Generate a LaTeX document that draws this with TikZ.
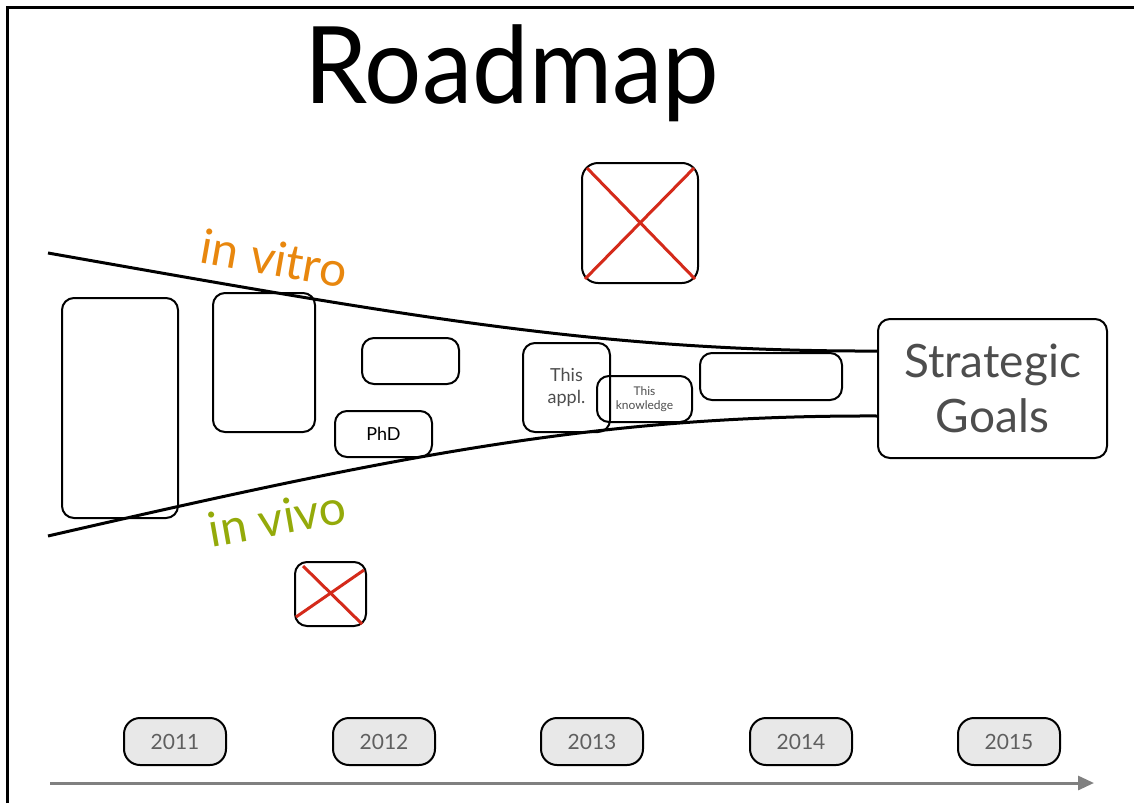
\documentclass[tikz,border=0pt]{standalone}
\usepackage{fontspec}
\setmainfont{Lato}
\usetikzlibrary{arrows.meta}
\definecolor{vitro}{HTML}{E8870E}
\definecolor{vivo}{HTML}{94AA0A}
\definecolor{txtgray}{HTML}{4D4D4D}
\definecolor{redx}{HTML}{D42A1A}
\definecolor{pill}{HTML}{E8E8E8}
\definecolor{axis}{HTML}{808080}
\begin{document}
\begin{tikzpicture}[x=1pt,y=-1pt,
  box/.style={draw=black,line width=2pt,rounded corners=12pt,inner sep=0pt},
  yearbox/.style={box,fill=pill,minimum width=102pt,minimum height=47pt,rounded corners=16pt,
    text=txtgray!90,font=\fontsize{21}{21}\selectfont},
  road/.style={line width=3pt,black},
  xline/.style={redx,line width=3pt}]
\useasboundingbox (0,0) rectangle (1134,803);
% frame
\draw[line width=3pt] (7,803) -- (7,7) -- (1134,7);
% title
\node[font=\fontsize{107}{107}\selectfont,xscale=0.945] (title) at (512,73) {Roadmap};
% road curves
\coordinate (ul) at (48,253);
\coordinate (ll) at (48,536);
\node[box,minimum width=229pt,minimum height=139pt,text=txtgray,align=center,
  font=\fontsize{46}{55}\selectfont] (goals) at (992.5,388.5) {Strategic\\Goals};
\coordinate (ur) at (878,351);
\coordinate (lr) at (878,416);
% boxes
\node[box,minimum width=116pt,minimum height=220pt] (b1) at (120,408) {};
\node[box,minimum width=102pt,minimum height=139pt] (b2) at (264,362.5) {};
\node[box,minimum width=97pt,minimum height=46pt] (b3) at (410.5,361) {};
\node[box,minimum width=97pt,minimum height=46pt,font=\fontsize{18}{18}\selectfont] (phd) at (383.5,434) {PhD};
\node[box,minimum width=87pt,minimum height=89pt,text=txtgray,align=center,
  font=\fontsize{18}{22}\selectfont] (appl) at (566.5,387.5) {This\\appl.};
\node[box,minimum width=95pt,minimum height=46pt,text=txtgray,align=center,
  font=\fontsize{12}{14}\selectfont] (know) at (644.5,399) {This\\knowledge};
\node[box,minimum width=142pt,minimum height=47pt] (b7) at (771,376.5) {};
\draw[road] (ul) .. controls (400,315) and (600,352) .. (ur);
\draw[road] (ll) .. controls (400,455) and (600,415) .. (lr);
% red X boxes
\node[box,minimum width=116pt,minimum height=120pt,rounded corners=16pt] (x1) at (640,223) {};
\draw[xline] ([shift={(6,6)}]x1.north west) -- ([shift={(-4,-5)}]x1.south east);
\draw[xline] ([shift={(4,-5)}]x1.south west) -- ([shift={(-5,6)}]x1.north east);
\node[box,minimum width=71pt,minimum height=64pt,rounded corners=12pt] (x2) at (330.5,594) {};
\draw[xline] ([shift={(9,5)}]x2.north west) -- ([shift={(-5,-3)}]x2.south east);
\draw[xline] ([shift={(2,-10)}]x2.south west) -- ([shift={(-3,9)}]x2.north east);
% labels
\node[text=vitro,rotate=-10,font=\fontsize{48}{48}\selectfont,inner sep=0pt] (vitro) at (274,258) {in vitro};
\node[text=vivo,rotate=10,font=\fontsize{48}{48}\selectfont,inner sep=0pt] (vivo) at (277,518) {in vivo};
% years
\node[yearbox] (y1) at (175,741.5) {2011};
\node[yearbox] (y2) at (384,741.5) {2012};
\node[yearbox] (y3) at (592,741.5) {2013};
\node[yearbox] (y4) at (801,741.5) {2014};
\node[yearbox] (y5) at (1009,741.5) {2015};
% time axis
\coordinate (a0) at (50,783);
\coordinate (a1) at (1094,783);
\draw[axis,line width=3pt,-{Triangle[length=16pt,width=14pt]}] (a0) -- (a1);
\end{tikzpicture}
\end{document}
